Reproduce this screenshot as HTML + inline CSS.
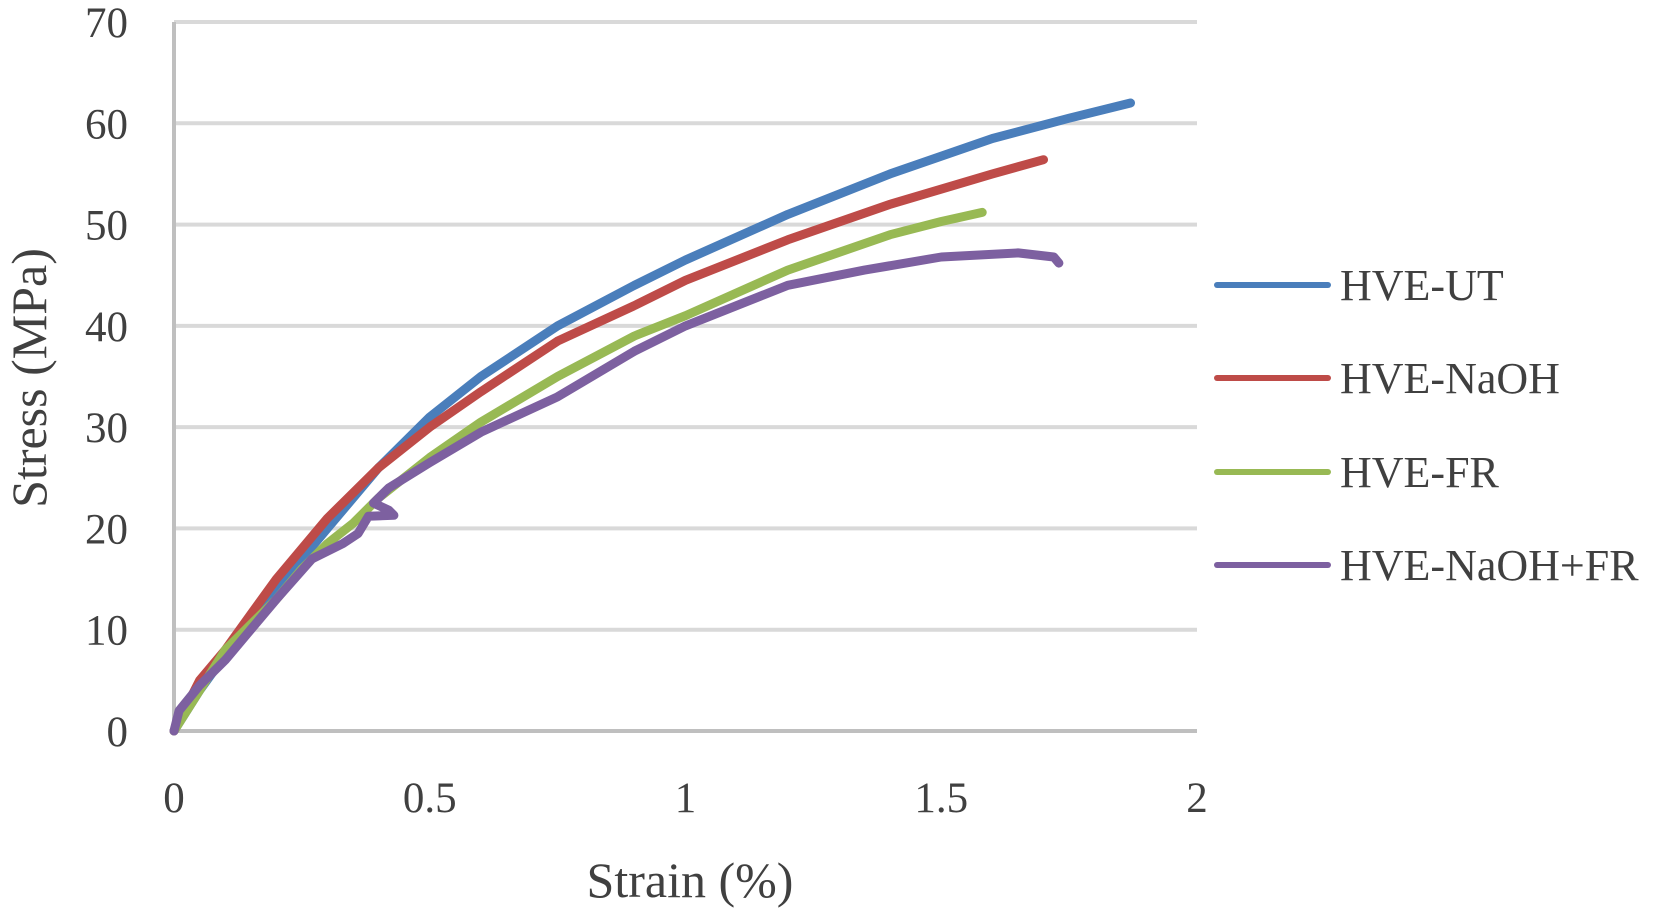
<!DOCTYPE html>
<html><head><meta charset="utf-8"><style>
body{margin:0;background:#fff}
svg{display:block}
text{font-family:"Liberation Serif",serif;fill:#404040}
</style></head><body>
<svg id="chart" width="1667" height="910">
<g id="grid"></g><g id="series"></g><g id="labels"></g><g id="legend"></g>
<text x="690" y="897" font-size="50" text-anchor="middle">Strain (%)</text>
<text transform="translate(46,378) rotate(-90)" font-size="50" text-anchor="middle">Stress (MPa)</text>
</svg>
<script>
const yTicks=[0,10,20,30,40,50,60,70];
const xTicks=[0,0.5,1,1.5,2];
const xTickLabels=["0","0.5","1","1.5","2"];
const seriesNames=["HVE-UT","HVE-NaOH","HVE-FR","HVE-NaOH+FR"];
const seriesColors=["#4a7ebb","#be4b48","#98b954","#7d60a0"];
const utStrain=[0,0.05,0.1,0.15,0.2,0.25,0.3,0.4,0.5,0.6,0.75,0.9,1.0,1.2,1.4,1.6,1.75,1.87];
const utStress=[0,4,7.5,10.5,14,17,20,26,31,35,40,44,46.5,51,55,58.5,60.5,62];
const naStrain=[0,0.05,0.1,0.15,0.2,0.25,0.3,0.4,0.5,0.6,0.75,0.9,1.0,1.2,1.4,1.6,1.7];
const naStress=[0,5,8,11.5,15,18,21,26,30,33.5,38.5,42,44.5,48.5,52,55,56.4];
const frStrain=[0,0.05,0.1,0.15,0.2,0.25,0.3,0.35,0.4,0.5,0.6,0.75,0.9,1.0,1.2,1.4,1.5,1.58];
const frStress=[0,4,8,10.5,13,16,18.5,20.5,23,27,30.5,35,39,41,45.5,49,50.3,51.2];
const nfStrain=[0,0.01,0.05,0.1,0.15,0.2,0.27,0.33,0.36,0.38,0.43,0.42,0.39,0.42,0.5,0.6,0.75,0.9,1.0,1.2,1.35,1.5,1.65,1.72,1.73];
const nfStress=[0,2,4.5,7,10,13,17,18.5,19.5,21.2,21.3,21.8,22.5,24,26.5,29.5,33,37.5,40,44,45.5,46.8,47.2,46.8,46.2];
const seriesX=[utStrain,naStrain,frStrain,nfStrain];
const seriesY=[utStress,naStress,frStress,nfStress];
const X0=174,X1=1197,Y0=731,Y1=22;
const xs=v=>X0+(X1-X0)*v/2;
const ys=v=>Y0-(Y0-Y1)*v/70;
const NS="http://www.w3.org/2000/svg";
function mk(tag,attrs,parent){const e=document.createElementNS(NS,tag);for(const k in attrs)e.setAttribute(k,attrs[k]);parent.appendChild(e);return e;}
const grid=document.getElementById('grid'),labels=document.getElementById('labels');
yTicks.forEach(t=>{
 const l=mk('line',{x1:X0,x2:X1,y1:ys(t),y2:ys(t),stroke:t===0?'#bfbfbf':'#d9d9d9','stroke-width':4},grid);
 
 
 const tx=mk('text',{x:128,y:ys(t)+15,'font-size':43,'text-anchor':'end'},labels);
 tx.textContent=t;
 
 
});
const ax=mk('line',{x1:X0,x2:X0,y1:Y1,y2:Y0,stroke:'#bfbfbf','stroke-width':4},grid);


xTicks.forEach((t,i)=>{
 const tx=mk('text',{x:xs(t),y:812,'font-size':43,'text-anchor':'middle'},labels);
 tx.textContent=xTickLabels[i];
 
 
});
const sg=document.getElementById('series'),lg=document.getElementById('legend');
const legY=[285,378,472,565];
seriesNames.forEach((n,i)=>{
 const pts=seriesX[i].map((x,j)=>xs(x).toFixed(1)+','+ys(seriesY[i][j]).toFixed(1)).join(' ');
 const p=mk('polyline',{points:pts,fill:'none',stroke:seriesColors[i],'stroke-width':9,'stroke-linejoin':'round','stroke-linecap':'round'},sg);
 
 
 const ll=mk('line',{x1:1217,x2:1328,y1:legY[i],y2:legY[i],stroke:seriesColors[i],'stroke-width':6,'stroke-linecap':'round'},lg);
 
 
 const lt=mk('text',{x:1340,y:legY[i]+15,'font-size':44},lg);
 lt.textContent=n;
 
 
});
</script>
</body></html>
